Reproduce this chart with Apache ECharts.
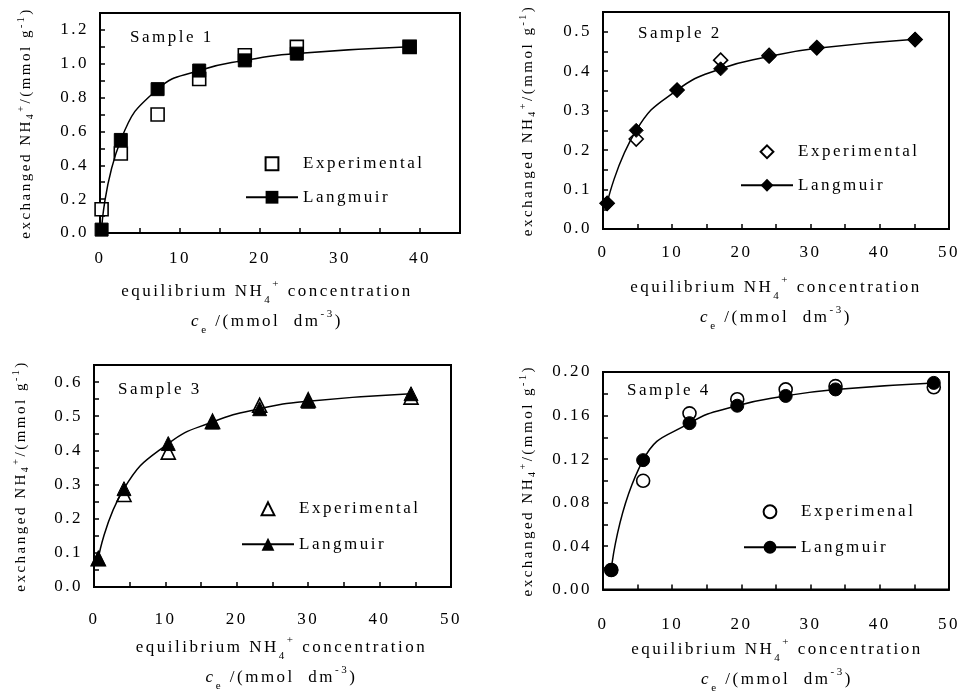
<!DOCTYPE html>
<html>
<head>
<meta charset="utf-8">
<script src="https://cdn.jsdelivr.net/npm/echarts@6/dist/echarts.min.js"></script>
<style>
html,body{margin:0;padding:0;background:#fff;}
#chart{width:963px;height:696px;}
</style>
</head>
<body>
<div id="chart"></div>
<script>
// ---- data ----
const s1X    = [0.2, 2.6, 7.2, 12.4, 18.1, 24.6, 38.7];
const s1Exp  = [0.14, 0.47, 0.70, 0.91, 1.05, 1.10, 1.10];
const s1Lang = [0.02, 0.55, 0.85, 0.96, 1.02, 1.06, 1.10];

const s2X    = [0.6, 4.8, 10.7, 17.0, 24.0, 30.9, 45.1];
const s2Exp  = [0.065, 0.228, 0.352, 0.428, 0.440, 0.460, 0.480];
const s2Lang = [0.065, 0.250, 0.352, 0.406, 0.437, 0.458, 0.481];

const s3X    = [0.6, 4.2, 10.4, 16.6, 23.2, 30.0, 44.4];
const s3Exp  = [0.083, 0.271, 0.395, 0.485, 0.532, 0.548, 0.556];
const s3Lang = [0.083, 0.288, 0.420, 0.483, 0.522, 0.544, 0.566];

const s4X    = [1.2, 5.8, 12.5, 19.4, 26.4, 33.6, 47.8];
const s4Exp  = [0.018, 0.100, 0.162, 0.175, 0.184, 0.187, 0.186];
const s4Lang = [0.018, 0.119, 0.153, 0.169, 0.178, 0.184, 0.190];

const sampleLabels = ['Sample 1', 'Sample 2', 'Sample 3', 'Sample 4'];
const expNames = ['Experimental', 'Experimental', 'Experimental', 'Experimenal'];
const langName = 'Langmuir';

// ---- wide letter spacing like the reference (drawing and measuring agree) ----
const LS = '2.5px';
const proto = CanvasRenderingContext2D.prototype;
const origFillText = proto.fillText;
proto.fillText = function () {
  if ('letterSpacing' in this) this.letterSpacing = LS;
  return origFillText.apply(this, arguments);
};
const mctx = document.createElement('canvas').getContext('2d');
if (echarts.setPlatformAPI) {
  echarts.setPlatformAPI({
    measureText: function (text, font) {
      mctx.font = font || '12px sans-serif';
      if ('letterSpacing' in mctx) mctx.letterSpacing = LS;
      return mctx.measureText(text);
    }
  });
}

// ---- layout / style ----
const FONT = 'Liberation Serif';
const panels = [
  { x: s1X, exp: s1Exp, lang: s1Lang, symbol: 'rect', size: 13,
    grid: {left: 100, top: 13, width: 360, height: 220},
    xMax: 45, xStep: 5, xLab: 10, yMax: 1.3, yStep: 0.1, yLabMul: 2, yDec: 1,
    xMargin: 16, yMargin: 11, yGap: 63, xGap: 44, xPad: [0, 26, 0, 0],
    legend: {left: 240, top: 149, gap: 14}, title: {left: 125, top: 23} },
  { x: s2X, exp: s2Exp, lang: s2Lang, symbol: 'diamond', size: 14,
    grid: {left: 603, top: 12, width: 347, height: 217},
    xMax: 50, xStep: 5, xLab: 10, yMax: 0.55, yStep: 0.05, yLabMul: 2, yDec: 1,
    xMargin: 14, yMargin: 11, yGap: 64, xGap: 44, xPad: [0, 0, 0, 0],
    legend: {left: 735, top: 137, gap: 14}, title: {left: 633, top: 19} },
  { x: s3X, exp: s3Exp, lang: s3Lang, symbol: 'triangle', size: 14,
    grid: {left: 94, top: 365, width: 357, height: 222},
    xMax: 50, xStep: 5, xLab: 10, yMax: 0.65, yStep: 0.05, yLabMul: 2, yDec: 1,
    xMargin: 23, yMargin: 11, yGap: 62, xGap: 46, xPad: [0, 0, 0, 18],
    legend: {left: 236, top: 494, gap: 16}, title: {left: 113, top: 375} },
  { x: s4X, exp: s4Exp, lang: s4Lang, symbol: 'circle', size: 13,
    grid: {left: 603, top: 372, width: 347, height: 224},
    xMax: 50, xStep: 5, xLab: 10, yMax: 0.20, yStep: 0.02, yLabMul: 2, yDec: 2,
    xMargin: 25, yMargin: 11, yGap: 64, xGap: 44, xPad: [0, 0, 0, 2],
    legend: {left: 738, top: 497, gap: 16}, title: {left: 622, top: 376} }
];

function txt(size, extra) {
  return Object.assign({fontFamily: FONT, fontSize: size, color: '#000'}, extra || {});
}
const xRich = {
  t: txt(17, {lineHeight: 30}),
  it: txt(17, {lineHeight: 30, fontStyle: 'italic'}),
  sup: txt(11, {lineHeight: 18, verticalAlign: 'top'}),
  sub: txt(11, {lineHeight: 22, verticalAlign: 'bottom'})
};
const yRich = {
  t: txt(15, {lineHeight: 22}),
  sup: txt(10, {lineHeight: 10, verticalAlign: 'top'}),
  sub: txt(10, {lineHeight: 14, verticalAlign: 'bottom'})
};
const xName = '{t|equilibrium NH}{sub|4}{sup|+}{t| concentration}\n{it|c}{sub|e}{t| /(mmol  dm}{sup|-3}{t|)}';
const yName = '{t|exchanged NH}{sub|4}{sup|+}{t|/(mmol g}{sup|-1}{t|)}';

const option = {
  backgroundColor: '#fff',
  animation: false,
  textStyle: {fontFamily: FONT},
  title: [], grid: [], xAxis: [], yAxis: [], series: [], legend: []
};

panels.forEach((p, i) => {
  option.grid.push(Object.assign({show: true, borderColor: '#000', borderWidth: 2, containLabel: false}, p.grid));
  option.title.push({text: sampleLabels[i], left: p.title.left, top: p.title.top,
    textStyle: txt(17, {fontWeight: 'normal'})});
  option.xAxis.push({
    type: 'value', gridIndex: i, min: 0, max: p.xMax, interval: p.xStep,
    name: xName, nameLocation: 'middle', nameGap: p.xGap,
    nameTextStyle: {rich: xRich, align: 'center', fontFamily: FONT, padding: p.xPad},
    axisLine: {show: true, onZero: false, lineStyle: {color: '#000', width: 2}},
    axisTick: {show: true, inside: true, length: 5, lineStyle: {color: '#000', width: 1.5}},
    axisLabel: {margin: p.xMargin, fontFamily: FONT, fontSize: 17, color: '#000',
      formatter: v => (Math.round(v) % p.xLab === 0 ? String(Math.round(v)) : '')},
    splitLine: {show: false}
  });
  option.yAxis.push({
    type: 'value', gridIndex: i, min: 0, max: p.yMax, interval: p.yStep,
    name: yName, nameLocation: 'middle', nameGap: p.yGap,
    nameTextStyle: {rich: yRich, fontFamily: FONT},
    axisLine: {show: true, onZero: false, lineStyle: {color: '#000', width: 2}},
    axisTick: {show: true, inside: true, length: 5, lineStyle: {color: '#000', width: 1.5}},
    axisLabel: {margin: p.yMargin, fontFamily: FONT, fontSize: 17, color: '#000',
      formatter: v => {
        const k = Math.round(v / p.yStep);
        return k % p.yLabMul === 0 ? v.toFixed(p.yDec) : '';
      }},
    splitLine: {show: false}
  });
  const en = expNames[i] + '#' + i;
  const ln = langName + '#' + i;
  option.series.push({
    name: en, type: 'line', xAxisIndex: i, yAxisIndex: i,
    data: p.x.map((x, k) => [x, p.exp[k]]),
    symbol: p.symbol, symbolSize: p.size, showSymbol: true, showAllSymbol: true,
    itemStyle: {color: '#fff', borderColor: '#000', borderWidth: 1.6},
    lineStyle: {width: 0, opacity: 0},
    z: 2
  });
  option.series.push({
    name: ln, type: 'line', xAxisIndex: i, yAxisIndex: i,
    data: p.x.map((x, k) => [x, p.lang[k]]),
    smooth: 0.5,
    symbol: p.symbol, symbolSize: p.size, showSymbol: true, showAllSymbol: true,
    itemStyle: {color: '#000', borderColor: '#000'},
    lineStyle: {color: '#000', width: 1.5},
    z: 3
  });
  option.legend.push({
    left: p.legend.left, top: p.legend.top, orient: 'vertical',
    itemWidth: 52, itemHeight: 16, itemGap: p.legend.gap, selectedMode: false,
    data: [en, ln],
    formatter: n => n.split('#')[0],
    textStyle: txt(17)
  });
});

const chart = echarts.init(document.getElementById('chart'), null, {renderer: 'canvas'});
chart.setOption(option);
</script>
</body>
</html>
